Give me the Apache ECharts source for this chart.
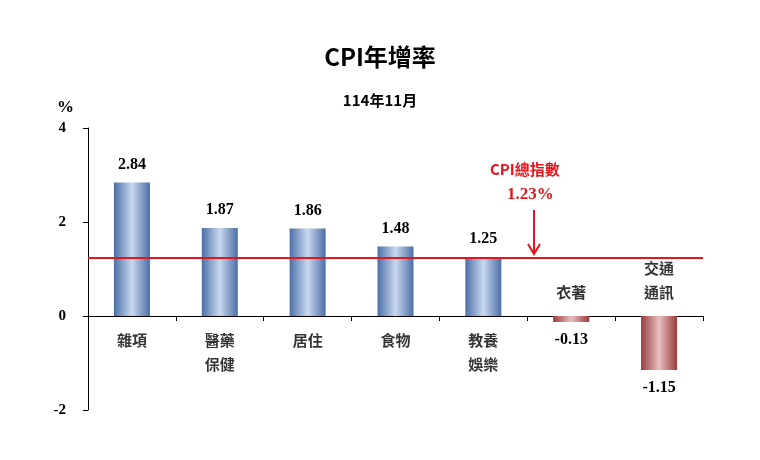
<!DOCTYPE html>
<html>
<head>
<meta charset="utf-8" />
<title>CPI年增率</title>
<style type="text/css">
body,div{margin:0;padding:0;background:#fff;}
</style>
<script src="https://cdn.jsdelivr.net/npm/echarts@6/dist/echarts.min.js"></script>
</head>
<body>
<div id="chart" style="width:760px;height:460px;"></div>
<script type="text/javascript">
var categories = ['雜項', '醫藥\n保健', '居住', '食物', '教養\n娛樂', '衣著', '交通\n通訊'];
var values = [2.84, 1.87, 1.86, 1.48, 1.25, -0.13, -1.15];
var cpiTotal = 1.23;
var yTicks = [-2, 0, 2, 4];

var numFont = '"Liberation Serif", "Noto Sans CJK TC", serif';
var cjkFont = '"Noto Sans CJK TC", "Liberation Serif", serif';

function grad(dark, light) {
    return new echarts.graphic.LinearGradient(0, 0, 1, 0, [
        { offset: 0, color: dark },
        { offset: 0.5, color: light },
        { offset: 1, color: dark }
    ]);
}

var barData = values.map(function (v) {
    return {
        value: v,
        itemStyle: { color: v >= 0 ? grad('#4a6fa5', '#c9d8ef') : grad('#9b3b3b', '#e8c0c0') },
        label: { position: v >= 0 ? 'top' : 'bottom' }
    };
});

// category names: below the axis for positive bars, above it for negative ones
var nameData = values.map(function (v, i) {
    return {
        value: 0,
        label: { position: v >= 0 ? 'bottom' : 'top', formatter: categories[i] }
    };
});

var myChart = echarts.init(document.getElementById('chart'));
var option = {
    animation: false,
    title: [
        { text: 'CPI年增率', left: 'center', top: 40,
          textStyle: { fontFamily: cjkFont, fontSize: 24, fontWeight: 'bold', color: '#000' } },
        { text: '114年11月', left: 'center', top: 88,
          textStyle: { fontFamily: cjkFont, fontSize: 15, fontWeight: 'bold', color: '#000' } },
        { text: '%', left: 52, top: 94,
          textStyle: { fontFamily: numFont, fontSize: 17, fontWeight: 'bold', color: '#000' } }
    ],
    grid: { left: 88, right: 57, top: 128, bottom: 50 },
    xAxis: {
        type: 'category',
        data: categories,
        axisLine: { onZero: true, lineStyle: { color: '#000' } },
        axisTick: { show: true, length: 5, lineStyle: { color: '#000' } },
        axisLabel: { show: false }
    },
    yAxis: {
        type: 'value',
        min: yTicks[0],
        max: yTicks[yTicks.length - 1],
        interval: 2,
        splitLine: { show: false },
        axisLine: { show: true, lineStyle: { color: '#000' } },
        axisTick: { show: true, length: 5, lineStyle: { color: '#000' } },
        axisLabel: { fontFamily: numFont, fontSize: 15, fontWeight: 'bold', color: '#000', margin: 22 }
    },
    series: [
        {
            type: 'bar',
            barWidth: 36,
            data: barData,
            label: {
                show: true,
                fontFamily: numFont, fontSize: 16, fontWeight: 'bold', color: '#000',
                distance: 10,
                formatter: function (p) { return p.value.toFixed(2); }
            },
            markLine: {
                silent: true,
                symbol: 'none',
                label: { show: false },
                lineStyle: { color: '#e8141b', width: 2, type: 'solid' },
                data: [{ yAxis: cpiTotal }]
            }
        },
        {
            type: 'scatter',
            symbolSize: 0,
            data: nameData,
            z: 5,
            label: {
                show: true,
                distance: 12,
                fontFamily: cjkFont, fontSize: 15, fontWeight: 'bold', color: '#000',
                lineHeight: 24
            }
        }
    ],
    graphic: [
        { type: 'text', left: 490, top: 162,
          style: { text: 'CPI總指數', fill: '#e8141b', font: 'bold 15px ' + cjkFont } },
        { type: 'text', left: 507, top: 186,
          style: { text: cpiTotal.toFixed(2) + '%', fill: '#e8141b', font: 'bold 17px ' + numFont } },
        { type: 'line', shape: { x1: 534, y1: 210, x2: 534, y2: 252 },
          style: { stroke: '#e8141b', lineWidth: 2 } },
        { type: 'polyline', shape: { points: [[528, 244], [534, 254], [540, 244]] },
          style: { stroke: '#e8141b', lineWidth: 2, fill: null } }
    ]
};
myChart.setOption(option);
</script>
</body>
</html>
